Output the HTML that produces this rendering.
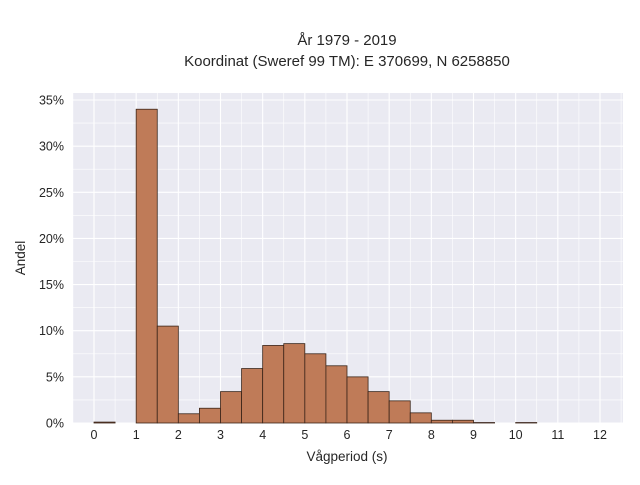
<!DOCTYPE html>
<html><head><meta charset="utf-8"><style>
body{margin:0;background:#fff;font-family:"Liberation Sans",sans-serif}
text{font-family:"Liberation Sans",sans-serif;fill:#262626}
</style></head><body>
<svg id="chart" width="640" height="480" xmlns="http://www.w3.org/2000/svg">
<text x="347" y="45" font-size="15" text-anchor="middle">År 1979 - 2019</text>
<text x="347" y="66" font-size="15" text-anchor="middle">Koordinat (Sweref 99 TM): E 370699, N 6258850</text>
<rect x="73" y="93" width="550" height="330" fill="#eaeaf2"/>
<g id="grid"></g><g id="bars"></g><g id="xt"></g><g id="yt"></g>
<text x="347" y="461" font-size="13.5" text-anchor="middle">Vågperiod (s)</text>
<text x="25" y="258" font-size="13.5" text-anchor="middle" transform="rotate(-90 25 258)">Andel</text>
</svg>
<script>
const binStarts=[0,0.5,1,1.5,2,2.5,3,3.5,4,4.5,5,5.5,6,6.5,7,7.5,8,8.5,9,9.5,10];
const shares=[0.1,0,34,10.5,1.0,1.6,3.4,5.9,8.4,8.6,7.5,6.2,5.0,3.4,2.4,1.1,0.3,0.3,0.05,0,0.05];
const binWidth=0.5;
const xTicks=[0,1,2,3,4,5,6,7,8,9,10,11,12];
const yTicks=[0,5,10,15,20,25,30,35];
const NS="http://www.w3.org/2000/svg";
const xs=v=>94+v*(600-94)/12;
const ys=v=>423-v*(423-100)/35;
const g=document.getElementById('grid'),b=document.getElementById('bars'),xt=document.getElementById('xt'),yt=document.getElementById('yt');
function mk(tag,at,p){const e=document.createElementNS(NS,tag);for(const k in at)e.setAttribute(k,at[k]);p.appendChild(e);return e;}
for(let v=-0.5;v<=12.5;v+=0.5){const l=mk('line',{x1:xs(v),x2:xs(v),y1:93,y2:423,stroke:'#fff','stroke-width':Number.isInteger(v)?1.1:0.6},g);

}
for(let v=0;v<=35;v+=2.5){const l=mk('line',{x1:73,x2:623,y1:ys(v),y2:ys(v),stroke:'#fff','stroke-width':v%5===0?1.1:0.6},g);

}
binStarts.forEach((s,i)=>{if(shares[i]<=0)return;const r=mk('rect',{x:xs(s),y:ys(shares[i]),width:xs(s+binWidth)-xs(s),height:423-ys(shares[i]),fill:'#bf7b58',stroke:'#3a2418','stroke-width':0.8},b);

});
xTicks.forEach(v=>{const t=mk('text',{x:xs(v),y:439,'font-size':'12.5','text-anchor':'middle'},xt);t.textContent=v;

});
yTicks.forEach(v=>{const t=mk('text',{x:64,y:ys(v)+4.5,'font-size':'12.5','text-anchor':'end'},yt);t.textContent=v+'%';

});
</script>
</body></html>
